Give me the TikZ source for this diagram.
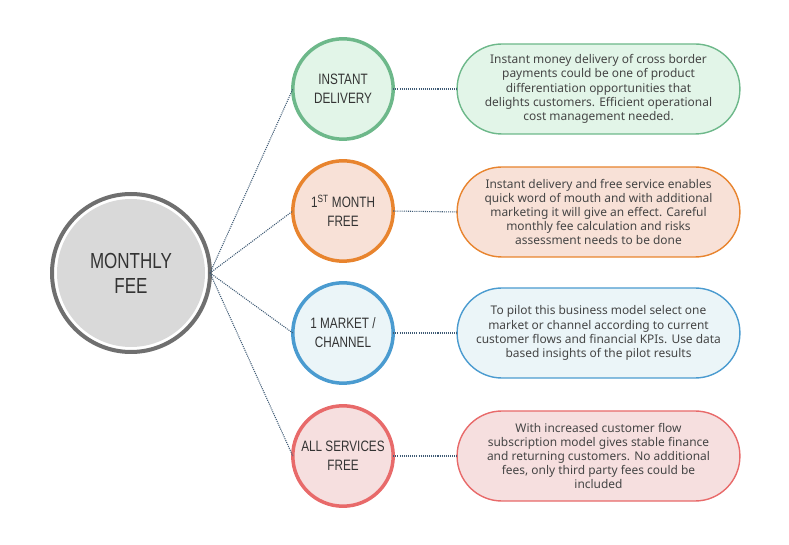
\documentclass[tikz,border=0pt]{standalone}
\usepackage{fontspec}
\usepackage{xcolor}
\usepackage{tikz}
\usetikzlibrary{positioning}
\setmainfont{Noto Sans}
\newfontfamily\narrowfont[FakeStretch=0.78]{Liberation Sans}

\definecolor{feeGray}{HTML}{6F6F6F}
\definecolor{feeFill}{HTML}{D9D9D9}
\definecolor{dotLine}{HTML}{3E5A74}
\definecolor{txtDark}{HTML}{333333}
\definecolor{txtGray}{HTML}{454545}
\definecolor{greenLine}{HTML}{6DB88A}
\definecolor{greenFill}{HTML}{E2F5E8}
\definecolor{orangeLine}{HTML}{E8842E}
\definecolor{orangeFill}{HTML}{F8E1D7}
\definecolor{blueLine}{HTML}{4A9BD0}
\definecolor{blueFill}{HTML}{EBF5F8}
\definecolor{redLine}{HTML}{E86A6A}
\definecolor{redFill}{HTML}{F6DFDF}

\tikzset{
  option/.style={circle, draw=#1Line, fill=#1Fill, line width=0.0875cm, minimum size=2.51cm, inner sep=0pt, outer sep=0pt, text=txtDark, align=center, font=\narrowfont\fontsize{10.7}{13.5}\selectfont},
  remark/.style={rectangle, draw=#1Line, fill=#1Fill, line width=0.035cm, rounded corners=1.12cm, minimum height=2.25cm, minimum width=7.07cm, outer sep=0pt, text=txtGray, align=center, font=\fontsize{8.5}{10.1}\selectfont},
  link/.style={draw=dotLine, line width=0.75pt, dash pattern=on 0.75pt off 0.75pt}
}

\begin{document}
\begin{tikzpicture}

\useasboundingbox (0,0) rectangle (19.725,13.6);

% central topic
\node at (3.275,6.775)[circle, draw=feeGray, line width=0.1cm, minimum size=3.95cm, inner sep=0pt, outer sep=0pt] (fee) {};
\node at (3.275,6.775)[circle, fill=feeFill, minimum size=3.7cm, inner sep=0pt, text=txtDark, align=center, font=\narrowfont\fontsize{15.5}{17.8}\selectfont] (feeText) {MONTHLY\\FEE};

% options
\node at (8.575,11.375)[option=green] (instant) {INSTANT\\DELIVERY};
\node at (8.575,8.325)[option=orange] (month) {1\textsuperscript{ST} MONTH\\FREE};
\node at (8.575,5.275)[option=blue] (market) {1 MARKET /\\CHANNEL};
\node at (8.575,2.2)[option=red] (services) {ALL SERVICES\\FREE};

% remarks
\node at (14.9625,11.375)[remark=green] (instantNote) {Instant money delivery of cross border\\payments could be one of product\\differentiation opportunities that\\delights customers. Efficient operational\\cost management needed.};
\node at (14.9625,8.3)[remark=orange] (monthNote) {Instant delivery and free service enables\\quick word of mouth and with additional\\marketing it will give an effect. Careful\\monthly fee calculation and risks\\assessment needs to be done};
\node at (14.9625,5.275)[remark=blue] (marketNote) {To pilot this business model select one\\market or channel according to current\\customer flows and financial KPIs. Use data\\based insights of the pilot results};
\node at (14.9625,2.2)[remark=red] (servicesNote) {With increased customer flow\\subscription model gives stable finance\\and returning customers. No additional\\fees, only third party fees could be\\included};

% connectors
\foreach \opt in {instant, month, market, services}{
  \draw[link] (fee.east) -- (\opt.west);
  \draw[link] (\opt.east) -- (\opt Note.west);
}

\end{tikzpicture}
\end{document}
